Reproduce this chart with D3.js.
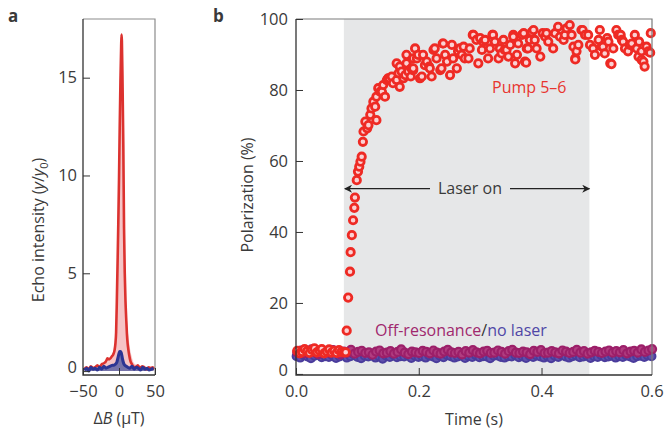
<!DOCTYPE html>
<html>
<head>
<meta charset="utf-8">
<script src="https://cdn.jsdelivr.net/npm/d3@7"></script>
<style>
  body { margin: 0; background: #fff; }
  text { font-family: "Open Sans", "Noto Sans", sans-serif; fill: #3a3a3a; }
</style>
</head>
<body>
<script>
// Panel a: echo intensity vs field offset (uT)
const redB = [-48,-45,-42,-39,-36,-33,-30,-27,-24,-21,-18,-16,-14,-12,-10,-8,-6,-5,-4,-3,-2,-1,0,1,2,3,3.5,4,5,6,7,8,9,10,11,12,13,14,16,18,20,23,26,29,32,35,38,41,44,47,49];
const redY = [0.1,0.2,0.1,0.25,0.15,0.2,0.3,0.2,0.35,0.4,0.5,0.65,0.6,0.65,0.75,0.85,1.1,1.4,2.0,3.6,5.5,7.5,9.8,12.5,14.8,16.6,17.2,16.9,14.5,11.5,7.3,5.0,3.6,2.7,1.9,1.4,1.1,0.85,0.5,0.35,0.22,0.2,0.3,0.15,0.25,0.2,0.1,0.2,0.15,0.2,0.1];
const fitB = [-48,-30,-20,-15,-10,-7,-5,-3,-1,1,2,3,3.5,4,5,6,8,10,12,14,16,18,20,25,30,48];
const fitY = [0.1,0.2,0.35,0.5,0.8,1.2,1.7,3.2,7,12,14.8,16.6,17.2,16.9,14.8,12,6.5,3.5,2.2,1.5,1.0,0.7,0.45,0.3,0.2,0.1];
const blueB = [-48,-45,-42,-39,-36,-33,-30,-27,-24,-21,-18,-15,-12,-9,-7,-5,-3,-2,-1,0,1,2,3,4,5,6,7,8,10,12,15,18,21,24,27,30,33,36,39,42,45,48];
const blueY = [0.05,0.15,0.0,0.2,0.1,0.15,0.05,0.2,0.1,0.25,0.15,0.2,0.25,0.3,0.3,0.35,0.45,0.6,0.75,0.9,1.0,1.0,0.95,0.8,0.6,0.45,0.35,0.3,0.25,0.2,0.15,0.25,0.1,0.2,0.15,0.05,0.2,0.1,0.15,0.05,0.1,0.15];
const ticksAX = [-50, 0, 50];
const ticksAY = [0, 5, 10, 15];

// Panel b: polarization (%) vs time (s)
const pumpT = [0.002,0.006,0.010,0.014,0.018,0.022,0.026,0.030,0.034,0.038,0.042,0.046,0.050,0.054,0.058,0.062,0.066,0.070,0.074,0.078,0.081,
  0.0826,0.085,0.088,0.089,0.091,0.093,0.095,
  0.096,0.099,0.101,0.103,0.105,0.107,0.109,0.110,0.113,0.116,0.118,0.121,0.123,0.126,0.129,0.131,0.131,0.134,0.137,0.140,0.142,0.145,0.148,0.150,0.152,0.156,0.158,0.164,0.164,0.167,0.169,0.169,0.172,0.175,0.178,0.180,0.180,0.183,0.187,0.188,0.191,0.191,
  0.191,0.194,0.197,0.199,0.202,0.205,0.207,0.210,0.213,0.217,0.218,0.221,0.224,0.226,0.229,0.235,0.237,0.239,0.240,0.243,0.246,0.251,0.254,0.256,0.262,0.264,0.267,0.270,0.273,0.275,0.281,0.283,0.288,0.289,0.294,0.297,0.300,0.303,0.305,0.308,0.313,0.316,0.320,0.321,0.324,0.330,0.332,0.335,0.338,0.340,0.343,0.346,0.349,0.354,0.354,0.357,0.360,0.362,0.368,0.371,0.373,0.375,0.376,0.378,0.381,0.384,
  0.387,0.389,0.392,0.398,0.402,0.406,0.408,0.411,0.419,0.422,0.427,0.430,0.436,0.438,0.441,0.446,0.449,0.452,0.455,0.455,0.457,0.460,0.465,0.467,0.471,0.476,0.479,0.484,0.487,0.493,0.495,0.498,0.500,0.503,0.507,0.509,0.512,0.514,0.517,0.522,0.525,0.529,0.531,0.533,0.536,0.541,0.544,0.547,0.552,0.555,0.558,0.559,0.563,0.563,0.566,0.568,0.571,0.574,0.577,0.578];
const pumpP = [6.5,5.8,6.2,7.0,6.4,5.9,6.8,7.2,6.1,6.6,7.0,5.8,6.3,6.9,6.0,6.5,5.9,6.7,6.2,6.1,6.1,
  12.2,21.5,28.8,34.3,39.1,43.3,46.8,
  49.7,54.6,57,58.4,59.8,61.2,65.4,68.3,71.1,69.2,70.1,73,74.8,76.7,75.3,71.5,78.1,80.5,79.5,79.5,81.4,78.1,82.8,83.3,83.3,83.8,81.9,82.8,87.5,84.7,80.9,86.6,85.2,83.3,84.2,89.9,87.5,85.2,83.8,86.1,88.9,85.6,
  86.1,91.7,88.9,89.9,83.3,83.8,89.9,87,88,86.6,86.1,83.8,91.3,91.7,88.9,85.6,86.1,93.1,93.1,89.9,88,84.2,92.7,88.9,86.1,90.9,91.7,89.9,92.2,88.9,88.9,91.7,95.5,95.5,94.1,87.5,94.6,91.3,93.6,94.1,88.9,91.7,95.5,95.5,93.6,88.9,91.7,90.3,94.1,91.3,91.3,89.4,92.7,95.5,95,87.5,89.9,93.1,95.5,96,88,87.7,91.7,91.7,94.1,96.3,
  96.9,94.1,91.7,89.4,96,95,96,93.6,91.7,96,97.8,95,94.1,95.5,97.4,98.3,95.5,92.2,88.9,88.6,90.9,92.7,96.9,96.9,95.5,95.5,92.7,91.7,89.9,94.1,96.9,92.2,92.2,90.3,94.6,93.6,87.5,87.3,91.7,96.9,95.5,95.5,94.1,93.6,91.7,90.9,92.7,93.1,95.5,91.7,89.4,93.6,90.9,88.5,88,86.6,92.2,90.9,90.5,96];
const offResP = [6.1,6.6,5.8,6.3,6.9,6.0,5.6,6.4,6.2,5.9,6.7,6.1,5.5,6.3,6.0,6.8,5.7,6.2,6.5,5.9,
  6.1,5.4,6.3,6.6,5.8,6.0,6.4,5.7,6.2,6.9,6.0,5.6,6.3,6.1,5.9,6.5,6.2,5.8,6.6,6.0,
  5.7,6.3,6.8,6.1,5.9,6.2,5.5,6.4,6.0,6.7,6.1,5.8,6.3,6.5,5.9,6.0,6.6,6.2,5.7,6.4,
  6.8,6.0,5.9,6.3,6.1,5.6,6.5,6.2,6.7,5.9,6.0,6.4,6.1,5.8,6.6,6.3,5.9,6.2,6.8,6.0,
  6.4,5.7,6.1,6.5,6.2,5.9,6.3,6.6,6.0,6.4,6.1,6.7,5.8,6.3,6.5,6.0,6.9,6.2,6.6,7.0];
const noLaserP = [5.0,4.6,5.3,4.9,4.4,5.1,5.4,4.7,5.0,4.8,5.2,4.5,4.9,5.3,4.6,5.0,5.5,4.8,4.4,5.1,
  4.9,5.2,4.6,5.0,4.3,5.1,4.8,5.4,4.7,5.0,4.9,5.3,4.5,5.1,4.8,5.0,4.6,5.2,4.9,4.4,
  5.1,4.7,5.3,5.0,4.6,4.9,5.2,4.5,5.0,4.8,5.3,4.7,5.0,4.9,4.4,5.1,5.2,4.8,4.6,5.0,
  4.9,5.3,4.7,5.0,4.5,5.1,4.8,5.2,4.9,4.6,5.0,4.4,5.1,4.8,5.3,4.9,4.6,5.0,5.2,4.7,
  4.9,5.1,4.5,5.0,4.8,5.3,4.7,4.9,5.1,4.6,5.0,4.8,5.2,4.9,4.5,5.0,5.1,4.8,5.2,5.0];
const baseStep = 0.00584; // sample spacing of the baseline traces (s)
const laserOn = [0.078, 0.478];
const ticksBX = [0, 0.2, 0.4];
const ticksBY = [0, 20, 40, 60, 80, 100];

const width = 666, height = 430;
const svg = d3.select("body").append("svg")
    .attr("width", width)
    .attr("height", height);

// lift the "0" label a little so it clears the x tick labels below it
const liftZero = g => g.selectAll(".tick").filter(d => d === 0).select("text").attr("dy", "0.1em");

// ---------- Panel a ----------
const xA = d3.scaleLinear().domain([-50, 50]).range([83, 155]);
const yA = d3.scaleLinear().domain([-0.2, 18]).range([375, 19]);
const gA = svg.append("g");

const redA = redB.map((b, i) => [b, redY[i]]);
const fitA = fitB.map((b, i) => [b, fitY[i]]);
const blueA = blueB.map((b, i) => [b, blueY[i]]);

gA.append("path")
    .datum(fitA)
    .attr("fill", "#f6c4c6")
    .attr("d", d3.area().x(d => xA(d[0])).y0(yA(0)).y1(d => yA(d[1])).curve(d3.curveMonotoneX));

gA.append("path")
    .datum(blueA)
    .attr("fill", "#7673a9")
    .attr("d", d3.area().x(d => xA(d[0])).y0(yA(0)).y1(d => yA(d[1])).curve(d3.curveMonotoneX));

gA.append("path")
    .datum(redA)
    .attr("fill", "none")
    .attr("stroke", "#dc322f")
    .attr("stroke-width", 2.6)
    .attr("stroke-linejoin", "round")
    .attr("d", d3.line().x(d => xA(d[0])).y(d => yA(d[1])).curve(d3.curveMonotoneX));

gA.append("path")
    .datum(blueA)
    .attr("fill", "none")
    .attr("stroke", "#2c3593")
    .attr("stroke-width", 3)
    .attr("stroke-linejoin", "round")
    .attr("d", d3.line().x(d => xA(d[0])).y(d => yA(d[1])).curve(d3.curveMonotoneX));

// frame
gA.append("path").attr("d", "M83,19H155V375").attr("fill", "none").attr("stroke", "#8c8c8c").attr("stroke-width", 1.2);
gA.append("path").attr("d", "M83,19V375H155").attr("fill", "none").attr("stroke", "#333").attr("stroke-width", 1.3);

gA.append("g")
    .attr("transform", "translate(83,0)")
    .call(d3.axisLeft(yA).tickValues(ticksAY).tickSize(-7).tickPadding(6))
    .call(g => g.select(".domain").remove())
    .call(g => g.selectAll("line").attr("stroke", "#333"))
    .call(g => g.selectAll("text").attr("font-size", 16.5).attr("fill", "#3a3a3a").attr("font-family", null))
    .call(liftZero);

gA.append("g")
    .attr("transform", "translate(0,375)")
    .call(d3.axisBottom(xA).tickValues(ticksAX).tickSize(-7).tickPadding(10).tickFormat(d => d < 0 ? "\u2212" + Math.abs(d) : d))
    .call(g => g.select(".domain").remove())
    .call(g => g.selectAll("line").attr("stroke", "#333"))
    .call(g => g.selectAll("text").attr("font-size", 16.5).attr("fill", "#3a3a3a").attr("font-family", null));

const yLabA = svg.append("text")
    .attr("transform", "translate(44,230) rotate(-90)")
    .attr("text-anchor", "middle")
    .attr("font-size", 16);
yLabA.append("tspan").text("Echo intensity (");
yLabA.append("tspan").attr("font-style", "italic").text("y");
yLabA.append("tspan").text("/");
yLabA.append("tspan").attr("font-style", "italic").text("y");
yLabA.append("tspan").attr("font-size", 11).attr("dy", 4).text("0");
yLabA.append("tspan").attr("dy", -4).text(")");

const xLabA = svg.append("text")
    .attr("x", 119).attr("y", 424)
    .attr("text-anchor", "middle")
    .attr("font-size", 16);
xLabA.append("tspan").text("\u0394");
xLabA.append("tspan").attr("font-style", "italic").text("B");
xLabA.append("tspan").text(" (\u03bcT)");

svg.append("text").attr("x", 8).attr("y", 22).attr("font-size", 17).attr("font-weight", "bold").attr("fill", "#222").text("a");

// ---------- Panel b ----------
const xB = d3.scaleLinear().domain([0, 0.58]).range([296, 652]);
const yB = d3.scaleLinear().domain([-0.3, 100]).range([375, 19]);
const gB = svg.append("g");

gB.append("rect")
    .attr("x", xB(laserOn[0]))
    .attr("y", yB(100))
    .attr("width", xB(laserOn[1]) - xB(laserOn[0]))
    .attr("height", yB(-0.3) - yB(100))
    .attr("fill", "#e6e7e8");

// baselines
gB.append("g").selectAll("circle")
    .data(noLaserP)
    .join("circle")
    .attr("cx", (d, i) => xB(i * baseStep + 0.001))
    .attr("cy", d => yB(d))
    .attr("r", 4)
    .attr("fill", "#6151ad")
    .attr("stroke", "#4a3c9c")
    .attr("stroke-width", 2);

gB.append("g").selectAll("circle")
    .data(offResP)
    .join("circle")
    .attr("cx", (d, i) => xB(i * baseStep + 0.002))
    .attr("cy", d => yB(d))
    .attr("r", 4)
    .attr("fill", "#b03d80")
    .attr("stroke", "#9c1f69")
    .attr("stroke-width", 2.2);

// pump 5-6
gB.append("g").selectAll("circle")
    .data(pumpT.map((t, i) => [t, pumpP[i]]))
    .join("circle")
    .attr("cx", d => xB(d[0]))
    .attr("cy", d => yB(d[1]))
    .attr("r", 3.7)
    .attr("fill", "#fbd1d3")
    .attr("stroke", "#ee2a24")
    .attr("stroke-width", 2.8);

// laser on arrow
const arrowY = yB(52.2);
const defs = svg.append("defs");
defs.append("marker")
    .attr("id", "arr")
    .attr("viewBox", "0 0 10 10")
    .attr("refX", 9).attr("refY", 5)
    .attr("markerWidth", 10).attr("markerHeight", 8)
    .attr("markerUnits", "userSpaceOnUse")
    .attr("orient", "auto")
    .append("path")
    .attr("d", "M0,0L10,5L0,10L3,5Z")
    .attr("fill", "#222");

gB.append("line")
    .attr("x1", 430).attr("x2", xB(laserOn[0]) + 1)
    .attr("y1", arrowY).attr("y2", arrowY)
    .attr("stroke", "#222").attr("stroke-width", 1.3)
    .attr("marker-end", "url(#arr)");
gB.append("line")
    .attr("x1", 510).attr("x2", xB(laserOn[1]))
    .attr("y1", arrowY).attr("y2", arrowY)
    .attr("stroke", "#222").attr("stroke-width", 1.3)
    .attr("marker-end", "url(#arr)");
gB.append("text")
    .attr("x", 470).attr("y", arrowY + 5.5)
    .attr("text-anchor", "middle")
    .attr("font-size", 16)
    .text("Laser on");

gB.append("text")
    .attr("x", 492).attr("y", 93)
    .attr("font-size", 16)
    .style("fill", "#e8352f")
    .text("Pump 5\u20136");

const leg = gB.append("text")
    .attr("x", 375).attr("y", 336)
    .attr("font-size", 16);
leg.append("tspan").style("fill", "#a0286e").text("Off-resonance");
leg.append("tspan").style("fill", "#333").text("/");
leg.append("tspan").style("fill", "#4f46a6").text("no laser");

// frame
gB.append("path").attr("d", "M296,19H652V375").attr("fill", "none").attr("stroke", "#7a7a7a").attr("stroke-width", 1.2);
gB.append("path").attr("d", "M296,19V375H652").attr("fill", "none").attr("stroke", "#333").attr("stroke-width", 1.3);

gB.append("g")
    .attr("transform", "translate(296,0)")
    .call(d3.axisLeft(yB).tickValues(ticksBY).tickSize(-7).tickPadding(8))
    .call(g => g.select(".domain").remove())
    .call(g => g.selectAll("line").attr("stroke", "#333"))
    .call(g => g.selectAll("text").attr("font-size", 16.5).attr("fill", "#3a3a3a").attr("font-family", null))
    .call(liftZero);

gB.append("g")
    .attr("transform", "translate(0,375)")
    .call(d3.axisBottom(xB).tickValues(ticksBX).tickSize(-7).tickPadding(10).tickFormat(d3.format(".1f")))
    .call(g => g.select(".domain").remove())
    .call(g => g.selectAll("line").attr("stroke", "#333"))
    .call(g => g.selectAll("text").attr("font-size", 16.5).attr("fill", "#3a3a3a").attr("font-family", null));

// right-end label sits at the frame edge
gB.append("text")
    .attr("x", xB(0.58)).attr("y", 385).attr("dy", "0.71em")
    .attr("text-anchor", "middle")
    .attr("font-size", 16.5)
    .text("0.6");

svg.append("text")
    .attr("transform", "translate(253,195) rotate(-90)")
    .attr("text-anchor", "middle")
    .attr("font-size", 16)
    .text("Polarization (%)");

svg.append("text")
    .attr("x", 474).attr("y", 425)
    .attr("text-anchor", "middle")
    .attr("font-size", 16)
    .text("Time (s)");

svg.append("text").attr("x", 213).attr("y", 22).attr("font-size", 17).attr("font-weight", "bold").attr("fill", "#222").text("b");
</script>
</body>
</html>
